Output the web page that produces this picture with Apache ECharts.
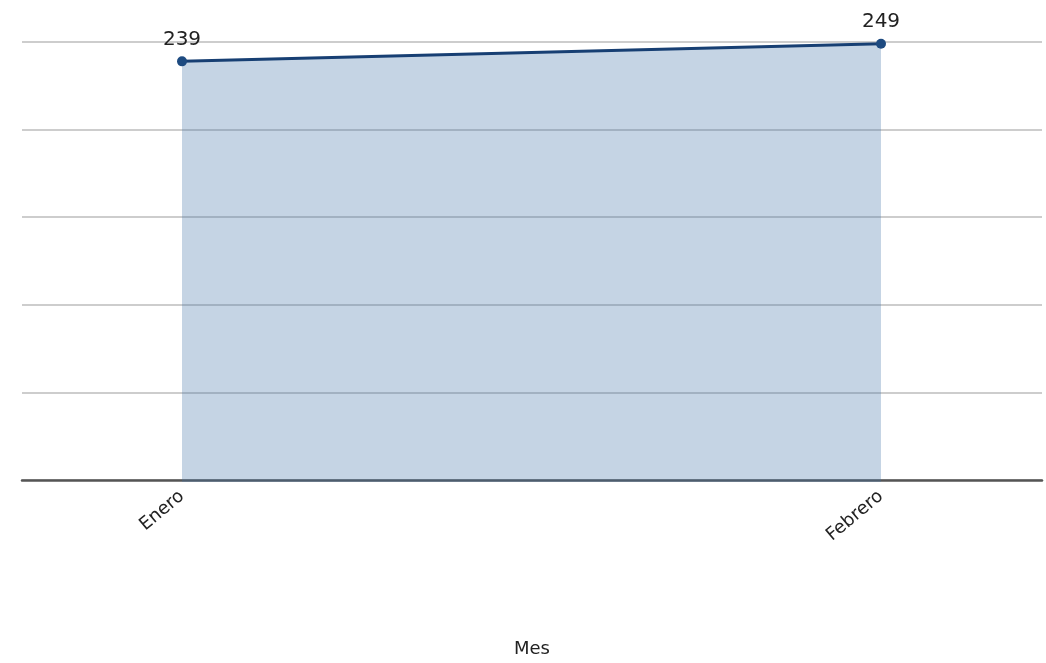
<!DOCTYPE html>
<html>
<head>
<meta charset="utf-8">
<script src="https://cdn.jsdelivr.net/npm/echarts@6/dist/echarts.min.js"></script>
<style>html,body{margin:0;padding:0;background:#fff}#c{width:1046px;height:663px}</style>
</head>
<body>
<div id="c"></div>
<script>
const categories = ['Enero', 'Febrero'];
const values = [239, 249];
const yMin = 0, yMax = 250, yStep = 50;
const xAxisTitle = 'Mes';

const chart = echarts.init(document.getElementById('c'));
const font = 'DejaVu Sans, Verdana, sans-serif';
chart.setOption({
  animation: false,
  grid: [
    {left: 22, right: 4, top: 42, bottom: 181},
    {left: 182, right: 165, top: 42, bottom: 181}
  ],
  xAxis: [
    {gridIndex: 0, type: 'value', min: 0, max: 1, axisLabel: {show: false}, axisTick: {show: false},
     splitLine: {show: false}, axisLine: {show: true, lineStyle: {color: '#555', width: 2.5}},
     name: xAxisTitle, nameLocation: 'middle', nameGap: 160,
     nameTextStyle: {fontFamily: font, fontSize: 18, color: '#222'}},
    {gridIndex: 1, type: 'category', data: categories, boundaryGap: false,
     axisLine: {show: false}, axisTick: {show: false},
     axisLabel: {rotate: 40, fontFamily: font, fontSize: 18, color: '#222', margin: 12}}
  ],
  yAxis: [
    {gridIndex: 0, type: 'value', min: yMin, max: yMax, interval: yStep,
     axisLabel: {show: false}, axisLine: {show: false}, axisTick: {show: false},
     splitLine: {show: true, lineStyle: {color: '#bdbdbd', width: 1.5}}},
    {gridIndex: 1, type: 'value', min: yMin, max: yMax, interval: yStep,
     axisLabel: {show: false}, axisLine: {show: false}, axisTick: {show: false},
     splitLine: {show: false}}
  ],
  series: [{
    type: 'line', xAxisIndex: 1, yAxisIndex: 1, data: values,
    symbol: 'circle', symbolSize: 10,
    lineStyle: {color: '#173f73', width: 3},
    itemStyle: {color: '#1d4a80'},
    areaStyle: {color: 'rgb(62,112,166)', opacity: 0.3},
    label: {show: true, position: 'top', distance: 7, fontFamily: font, fontSize: 20, color: '#222'},
    z: 3
  }]
});
</script>
</body>
</html>
